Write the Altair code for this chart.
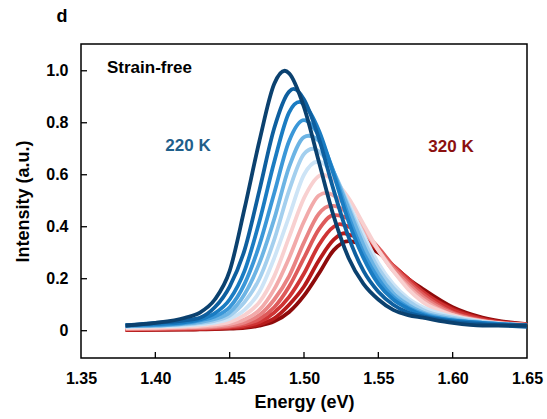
import altair as alt
import pandas as pd

# ---------------- data ----------------
ENERGY = [1.38, 1.40, 1.42, 1.43, 1.44, 1.45, 1.46, 1.47, 1.48, 1.49, 1.50,
          1.51, 1.52, 1.53, 1.54, 1.55, 1.56, 1.57, 1.58, 1.60, 1.62, 1.65]

PEAK_E = [1.487, 1.493, 1.497, 1.500, 1.503, 1.506, 1.509,
          1.512, 1.515, 1.518, 1.521, 1.524, 1.527, 1.530]
PEAK_I = [1.00, 0.93, 0.88, 0.81, 0.75, 0.70, 0.65,
          0.60, 0.53, 0.48, 0.445, 0.41, 0.375, 0.345]

S01 = [.02, .03, .05, .07, .12, .23, .47, .73, .95, .99, .86, .65, .44, .28, .18, .12, .08, .06, .05, .03, .02, .02]
S02 = [.02, .03, .04, .05, .09, .17, .31, .54, .78, .92, .89, .74, .54, .36, .23, .15, .10, .07, .055, .035, .025, .015]
S03 = [.02, .025, .033, .043, .067, .12, .23, .42, .65, .84, .87, .77, .60, .42, .28, .18, .12, .085, .06, .04, .03, .02]
S04 = [.02, .022, .03, .04, .055, .09, .18, .33, .53, .73, .81, .75, .61, .44, .30, .20, .13, .09, .065, .04, .03, .02]
S05 = [.02, .02, .027, .033, .045, .07, .14, .26, .43, .63, .745, .73, .61, .47, .33, .22, .145, .10, .07, .045, .03, .02]
S06 = [.017, .02, .024, .029, .038, .058, .11, .20, .35, .54, .68, .69, .61, .48, .35, .24, .165, .115, .08, .05, .033, .02]
S07 = [.014, .017, .02, .024, .031, .046, .08, .15, .28, .44, .60, .65, .60, .49, .37, .26, .18, .125, .09, .054, .035, .02]
S08 = [.01, .012, .016, .019, .024, .034, .06, .11, .21, .36, .51, .595, .58, .51, .41, .31, .23, .16, .11, .06, .036, .022]
S09 = [.009, .01, .013, .015, .019, .026, .043, .08, .16, .28, .42, .52, .52, .47, .39, .31, .23, .17, .12, .06, .037, .022]
S10 = [.007, .008, .011, .012, .015, .02, .032, .06, .12, .21, .34, .45, .48, .45, .39, .31, .24, .18, .13, .066, .038, .022]
S11 = [.006, .007, .009, .01, .012, .016, .025, .045, .09, .17, .28, .39, .445, .43, .38, .32, .25, .19, .14, .07, .04, .023]
S12 = [.004, .005, .007, .008, .01, .013, .019, .033, .07, .13, .22, .33, .40, .40, .37, .31, .25, .20, .15, .08, .044, .023]
S13 = [.003, .004, .005, .006, .0075, .01, .014, .024, .048, .10, .17, .27, .35, .37, .35, .31, .25, .20, .15, .085, .047, .024]
S14 = [.002, .003, .004, .005, .006, .008, .011, .019, .036, .072, .135, .22, .31, .345, .33, .30, .25, .20, .16, .09, .05, .025]

SERIES = [S01, S02, S03, S04, S05, S06, S07, S08, S09, S10, S11, S12, S13, S14]

COLORS = ['#0b416f', '#0e5f9f', '#1a7cc2', '#3a97d8', '#6cb4e4', '#a3cfee', '#cde4f6',
          '#f8d0d0', '#f2aaaa', '#e98383', '#de5a5a', '#cf3434', '#b71b1b', '#8e0b0b']

X_TICKS = [1.35, 1.40, 1.45, 1.50, 1.55, 1.60, 1.65]
Y_TICKS = [0, 0.2, 0.4, 0.6, 0.8, 1.0]

LABELS = ["Strain-free", "220 K", "320 K", "d"]

# ---------------- build table ----------------
rows = []
for k, vals in enumerate(SERIES):
    pts = [(e, v) for e, v in zip(ENERGY, vals) if abs(e - PEAK_E[k]) > 1e-9]
    pts.append((PEAK_E[k], PEAK_I[k]))
    pts.sort()
    for e, v in pts:
        rows.append({"curve": k, "energy": e, "intensity": v})
df = pd.DataFrame(rows)

W, H = 446, 314
FONT = "Liberation Sans"

x_scale = alt.Scale(domain=[1.35, 1.65], nice=False, zero=False)
y_scale = alt.Scale(domain=[-0.105, 1.103], nice=False, zero=False)

x_axis = alt.Axis(values=X_TICKS, format=".2f", title="Energy (eV)",
                  labelPadding=12, titlePadding=7, tickSize=0, labelFlush=False)
y_axis = alt.Axis(values=Y_TICKS, title="Intensity (a.u.)",
                  labelExpr="datum.value == 0 ? '0' : format(datum.value, '.1f')",
                  labelPadding=13, titlePadding=13, tickSize=0, labelFlush=False)

layers = []
for k in reversed(range(len(SERIES))):
    layers.append(
        alt.Chart(df).transform_filter(alt.datum.curve == k)
        .mark_line(color=COLORS[k], strokeWidth=3.8, interpolate="monotone")
        .encode(x=alt.X("energy:Q", scale=x_scale, axis=x_axis),
                y=alt.Y("intensity:Q", scale=y_scale, axis=y_axis))
    )

xt = alt.Chart(pd.DataFrame({"t": X_TICKS[1:-1]})).mark_rule(color="black", strokeWidth=1.3).encode(
    x=alt.X("t:Q", scale=x_scale, axis=x_axis), y=alt.value(H), y2=alt.value(H - 6))
yt = alt.Chart(pd.DataFrame({"t": Y_TICKS})).mark_rule(color="black", strokeWidth=1.3).encode(
    y=alt.Y("t:Q", scale=y_scale, axis=y_axis), x=alt.value(0), x2=alt.value(6))

def label(txt, x, y, color, size, align="left"):
    return alt.Chart(pd.DataFrame({"t": [txt]})).mark_text(
        font=FONT, fontWeight="bold", fontSize=size, color=color, align=align, baseline="middle"
    ).encode(text="t:N", x=alt.value(x), y=alt.value(y))

texts = [
    label(LABELS[0], 26, 24, "black", 17),
    label(LABELS[1], 107, 102, "#1f5f8b", 17, "center"),
    label(LABELS[2], 370, 103, "#8b1010", 17, "center"),
    label(LABELS[3], -19, -27, "black", 18, "center"),
]

chart = alt.layer(*layers, xt, yt, *texts).properties(
    width=W, height=H,
    autosize=alt.AutoSizeParams(type="none"),
    padding={"left": 81, "top": 44, "right": 20, "bottom": 61},
).configure_view(stroke="black", strokeWidth=1.5).configure_axis(
    domain=False, ticks=False, grid=False,
    labelFont=FONT, labelFontSize=16, labelFontWeight="bold", labelColor="black",
    titleFont=FONT, titleFontSize=18, titleFontWeight="bold", titleColor="black",
)

chart.save("out.html", embed_options={"renderer": "svg", "actions": False})
